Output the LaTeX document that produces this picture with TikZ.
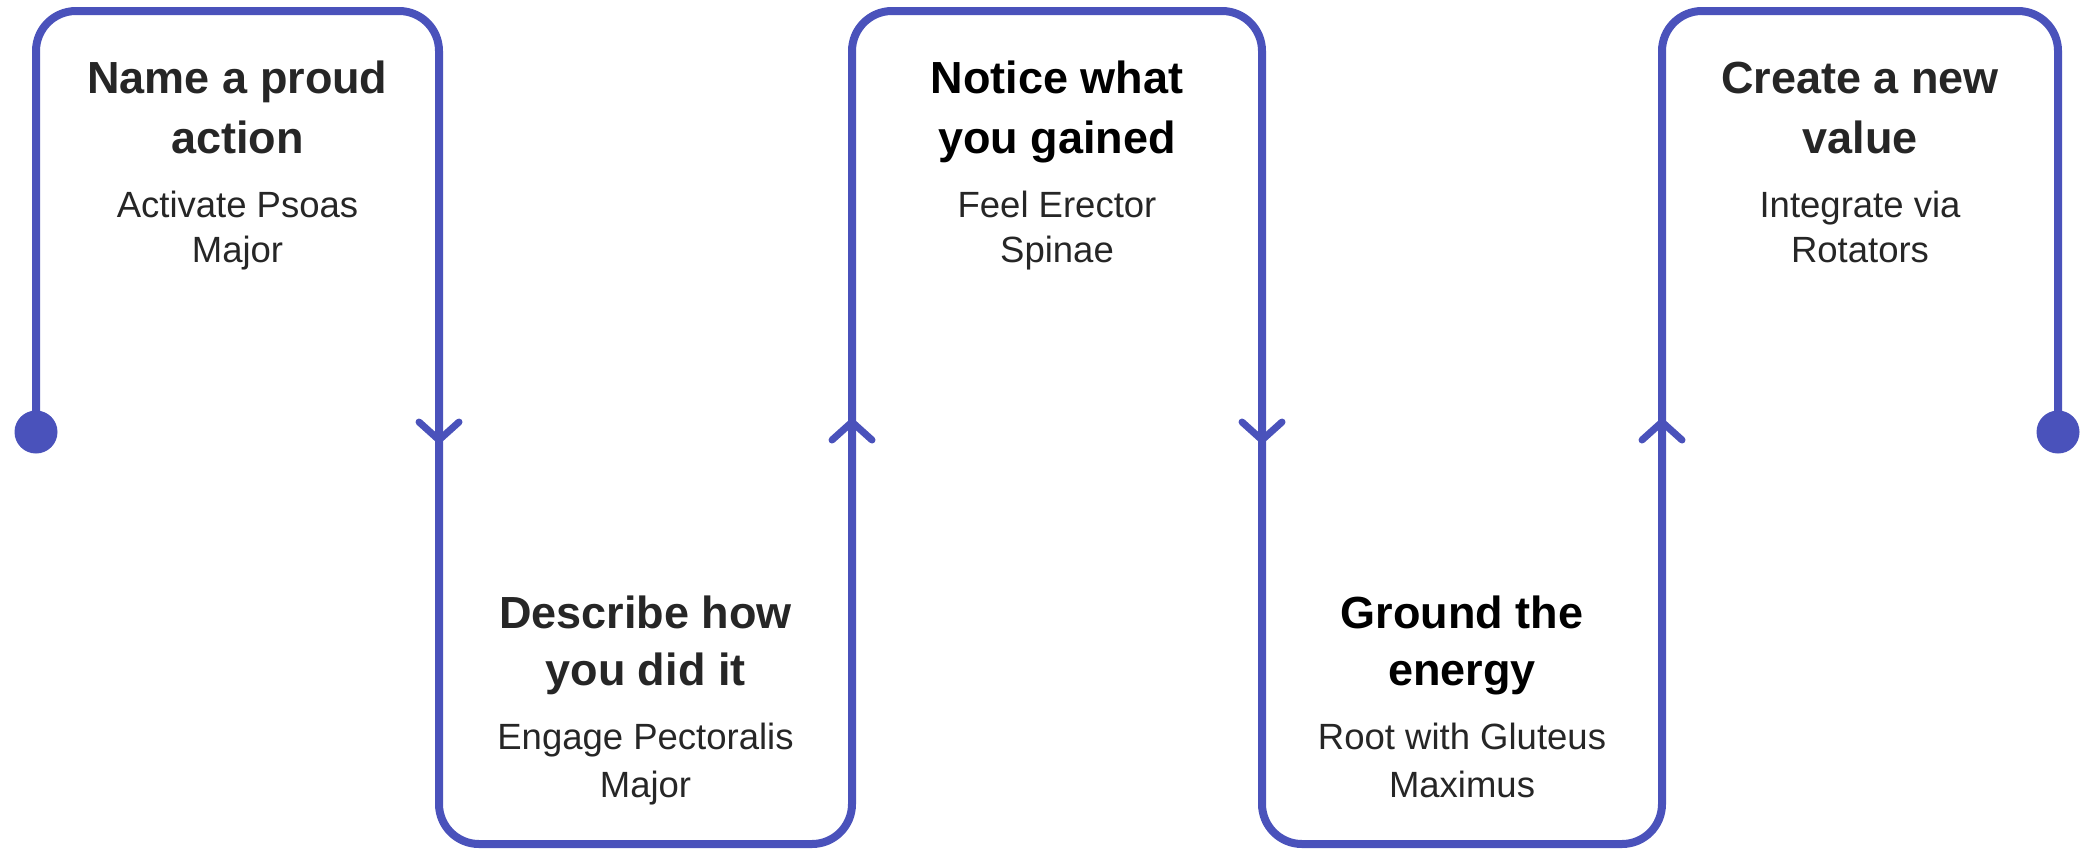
\documentclass[tikz,border=0pt]{standalone}
\usepackage{fontspec}
\setmainfont{Liberation Sans}
\definecolor{flow}{RGB}{74,82,187}
\definecolor{ink}{RGB}{38,38,38}
\tikzset{
  flowline/.style={draw=flow, line width=8pt, rounded corners=40pt},
  headv/.style={draw=flow, line width=7pt, line cap=round, line join=round},
  enddot/.style={circle, fill=flow, minimum size=43pt, inner sep=0pt},
  ttl/.style={font=\bfseries\fontsize{45}{54}\selectfont, text=ink, anchor=base, inner sep=0pt},
  sub/.style={font=\fontsize{36.5}{44}\selectfont, text=ink, anchor=base, inner sep=0pt},
}
\begin{document}
\begin{tikzpicture}[x=1pt,y=-1pt]
\useasboundingbox (0,0) rectangle (2084,849);
% end points
\coordinate (d1) at (36,432);
\coordinate (d2) at (2058,432);
% serpentine line
\draw[flowline] (d1) -- (36,11) -- (439,11) -- (439,844) -- (852,844) -- (852,11)
  -- (1262,11) -- (1262,844) -- (1662,844) -- (1662,11) -- (2058,11) -- (d2);
\node[enddot] (p1) at (d1) {};
\node[enddot] (p2) at (d2) {};
% arrow heads
\coordinate (a1) at (439,440);
\coordinate (a2) at (852,422);
\coordinate (a3) at (1262,440);
\coordinate (a4) at (1662,422);
\draw[headv] ([shift={(-20,-18)}]a1) -- (a1) -- ([shift={(20,-18)}]a1);
\draw[headv] ([shift={(-20,18)}]a2) -- (a2) -- ([shift={(20,18)}]a2);
\draw[headv] ([shift={(-20,-18)}]a3) -- (a3) -- ([shift={(20,-18)}]a3);
\draw[headv] ([shift={(-20,18)}]a4) -- (a4) -- ([shift={(20,18)}]a4);
% box 1
\node[ttl] (t1a) at (237.5,93) {Name a proud};
\node[ttl] (t1b) at (237.5,153) {action};
\node[sub] (s1a) at (237.5,217) {Activate Psoas};
\node[sub] (s1b) at (237.5,262) {Major};
% box 2
\node[ttl] (t2a) at (645.5,628) {Describe how};
\node[ttl] (t2b) at (645.5,685) {you did it};
\node[sub] (s2a) at (645.5,749) {Engage Pectoralis};
\node[sub] (s2b) at (645.5,797) {Major};
% box 3
\node[ttl,text=black] (t3a) at (1057,93) {Notice what};
\node[ttl,text=black] (t3b) at (1057,153) {you gained};
\node[sub] (s3a) at (1057,217) {Feel Erector};
\node[sub] (s3b) at (1057,262) {Spinae};
% box 4
\node[ttl,text=black] (t4a) at (1462,628) {Ground the};
\node[ttl,text=black] (t4b) at (1462,685) {energy};
\node[sub] (s4a) at (1462,749) {Root with Gluteus};
\node[sub] (s4b) at (1462,797) {Maximus};
% box 5
\node[ttl] (t5a) at (1860,93) {Create a new};
\node[ttl] (t5b) at (1860,153) {value};
\node[sub] (s5a) at (1860,217) {Integrate via};
\node[sub] (s5b) at (1860,262) {Rotators};
\end{tikzpicture}
\end{document}
